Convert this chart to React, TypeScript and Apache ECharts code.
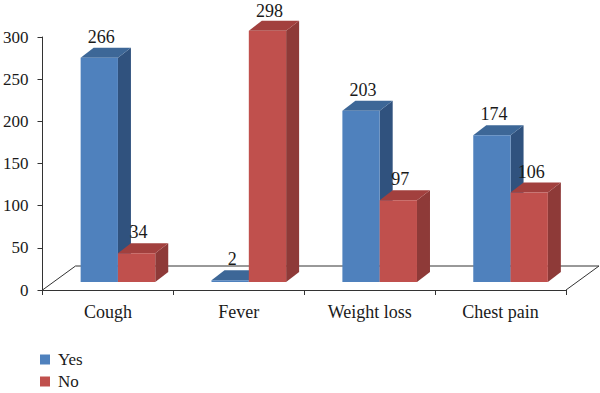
import React, { useEffect, useRef } from "react";
import * as echarts from "echarts";

const categories = ["Cough", "Fever", "Weight loss", "Chest pain"];
const yesValues = [266, 2, 203, 174];
const noValues = [34, 298, 97, 106];
const yTicks = { min: 0, max: 300, interval: 50 };

const FONT = "Liberation Serif";
const SHIFT_X = 10;
const SHIFT_Y = -8;
const DEPTH_X = 13;
const DEPTH_Y = -10;
const FLOOR_X = 33;
const FLOOR_Y = -24;

const palettes = [
  { front: "#4F81BD", top: "#3D6797", side: "#30527E" },
  { front: "#C0504D", top: "#A2403E", side: "#8E3A38" },
];

function makeBarRenderer(seriesIdx: number) {
  return (params: any, api: any) => {
    const cat = api.value(0);
    const val = api.value(1);
    const topPt = api.coord([cat, val]);
    const basePt = api.coord([cat, 0]);
    const band = api.size([1, 0])[0];
    const w = band * 0.285;
    const x0 = topPt[0] + SHIFT_X + (seriesIdx === 0 ? -w : 0);
    const yTop = topPt[1] + SHIFT_Y;
    const yBot = basePt[1] + SHIFT_Y;
    const pal = palettes[seriesIdx];
    return {
      type: "group",
      children: [
        {
          type: "polygon",
          shape: {
            points: [
              [x0 + w, yTop],
              [x0 + w + DEPTH_X, yTop + DEPTH_Y],
              [x0 + w + DEPTH_X, yBot + DEPTH_Y],
              [x0 + w, yBot],
            ],
          },
          style: { fill: pal.side },
        },
        {
          type: "polygon",
          shape: {
            points: [
              [x0, yTop],
              [x0 + DEPTH_X, yTop + DEPTH_Y],
              [x0 + w + DEPTH_X, yTop + DEPTH_Y],
              [x0 + w, yTop],
            ],
          },
          style: { fill: pal.top },
        },
        {
          type: "rect",
          shape: { x: x0, y: yTop, width: w, height: Math.max(yBot - yTop, 0.5) },
          style: { fill: pal.front },
        },
        {
          type: "text",
          x: x0 + w / 2 + 2,
          y: Math.max(yTop - 21, 11),
          style: {
            text: String(val),
            fill: "#1a1a1a",
            fontFamily: FONT,
            fontSize: 18,
            align: "center",
            verticalAlign: "middle",
          },
        },
      ],
    };
  };
}

function floorRenderer(params: any, api: any) {
  const cs = params.coordSys;
  const x = cs.x;
  const yb = cs.y + cs.height;
  const w = cs.width;
  return {
    type: "polyline",
    shape: {
      points: [
        [x, yb],
        [x + FLOOR_X, yb + FLOOR_Y],
        [x + w + FLOOR_X, yb + FLOOR_Y],
        [x + w, yb],
      ],
    },
    style: { stroke: "#333333", lineWidth: 1, fill: null },
  };
}

export default function App() {
  const ref = useRef<HTMLDivElement>(null);
  useEffect(() => {
    if (!ref.current) return;
    const chart = echarts.init(ref.current, null, { renderer: "svg" });
    chart.setOption({
      animation: false,
      backgroundColor: "#ffffff",
      textStyle: { fontFamily: FONT },
      grid: { left: 40, right: 34, top: 37, bottom: 103, containLabel: false },
      legend: {
        orient: "vertical",
        left: 40,
        top: 351,
        width: 100,
        height: 40,
        padding: 0,
        itemWidth: 10,
        itemHeight: 10,
        itemGap: 5,
        data: [
          { name: "Yes", icon: "rect" },
          { name: "No", icon: "rect" },
        ],
        textStyle: {
          fontFamily: FONT,
          fontSize: 17,
          lineHeight: 14,
          color: "#1a1a1a",
          padding: [0, 0, 0, 3],
        },
      },
      xAxis: {
        type: "category",
        data: categories,
        boundaryGap: true,
        axisLine: { show: true, lineStyle: { color: "#333333", width: 1 } },
        axisTick: { show: true, length: 5, lineStyle: { color: "#333333" } },
        axisLabel: { fontFamily: FONT, fontSize: 18, color: "#1a1a1a", margin: 13 },
        splitLine: { show: false },
      },
      yAxis: {
        type: "value",
        min: yTicks.min,
        max: yTicks.max,
        interval: yTicks.interval,
        axisLine: { show: true, lineStyle: { color: "#333333", width: 1 } },
        axisTick: { show: true, length: 5, lineStyle: { color: "#333333" } },
        axisLabel: { fontFamily: FONT, fontSize: 17, color: "#1a1a1a", margin: 14 },
        splitLine: { show: false },
      },
      series: [
        {
          name: "floor",
          type: "custom",
          renderItem: floorRenderer,
          data: [[0, 0]],
          silent: true,
          z: 1,
        },
        {
          name: "Yes",
          type: "custom",
          renderItem: makeBarRenderer(0),
          itemStyle: { color: palettes[0].front },
          data: yesValues.map((v, i) => [i, v]),
          z: 2,
        },
        {
          name: "No",
          type: "custom",
          renderItem: makeBarRenderer(1),
          itemStyle: { color: palettes[1].front },
          data: noValues.map((v, i) => [i, v]),
          z: 3,
        },
      ],
    });
    return () => chart.dispose();
  }, []);
  return (
    <div
      ref={ref}
      style={{ position: "fixed", left: 0, top: 0, width: 600, height: 393 }}
    />
  );
}
